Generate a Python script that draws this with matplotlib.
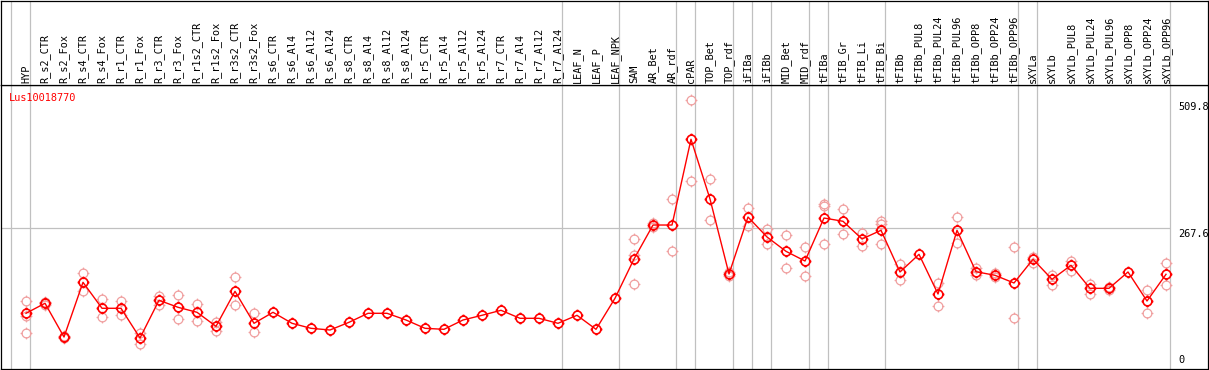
"""Expression profile of Lus10018770 across tissues and treatments."""

import matplotlib

matplotlib.use("Agg")
import matplotlib.pyplot as plt
import numpy as np
from matplotlib.path import Path

GENE = "Lus10018770"

SAMPLES = [
    "HYP", "R_s2_CTR", "R_s2_Fox", "R_s4_CTR", "R_s4_Fox", "R_r1_CTR",
    "R_r1_Fox", "R_r3_CTR", "R_r3_Fox", "R_r1s2_CTR", "R_r1s2_Fox",
    "R_r3s2_CTR", "R_r3s2_Fox", "R_s6_CTR", "R_s6_Al4", "R_s6_Al12",
    "R_s6_Al24", "R_s8_CTR", "R_s8_Al4", "R_s8_Al12", "R_s8_Al24",
    "R_r5_CTR", "R_r5_Al4", "R_r5_Al12", "R_r5_Al24", "R_r7_CTR",
    "R_r7_Al4", "R_r7_Al12", "R_r7_Al24", "LEAF_N", "LEAF_P", "LEAF_NPK",
    "SAM", "AR_Bet", "AR_rdf", "cPAR", "TOP_Bet", "TOP_rdf", "iFIBa",
    "iFIBb", "MID_Bet", "MID_rdf", "tFIBa", "tFIB_Gr", "tFIB_Li", "tFIB_Bi",
    "tFIBb", "tFIBb_PUL8", "tFIBb_PUL24", "tFIBb_PUL96", "tFIBb_OPP8",
    "tFIBb_OPP24", "tFIBb_OPP96", "sXYLa", "sXYLb", "sXYLb_PUL8",
    "sXYLb_PUL24", "sXYLb_PUL96", "sXYLb_OPP8", "sXYLb_OPP24", "sXYLb_OPP96",
]

MEANS = [
    105.7, 124.7, 60.7, 164.5, 115.2, 115.2, 58.8, 130.4, 117.1, 107.6,
    81.0, 147.4, 86.7, 107.6, 86.7, 77.2, 74.0, 88.6, 105.7, 105.7,
    93.0, 77.2, 75.3, 93.0, 101.9, 111.4, 96.2, 96.2, 86.7, 101.9,
    75.3, 134.2, 208.7, 273.2, 273.2, 435.9, 322.6, 180.3, 288.4, 250.5,
    223.3, 204.9, 286.5, 280.3, 246.7, 263.2, 184.1, 217.6, 142.3, 263.2,
    184.6, 177.8, 163.2, 208.2, 170.2, 196.8, 153.1, 153.1, 184.1, 129.0,
    179.7,
]

REPLICATES = [
    [129.0, 100.6, 68.3], [122.0, 127.0], [58.0, 63.0], [181.6, 148.6],
    [132.3, 98.1], [129.0, 101.9], [68.9, 47.4], [139.1, 122.0],
    [140.4, 94.3], [123.3, 90.5], [88.6, 72.7], [174.0, 120.9],
    [105.7, 69.6], [], [], [], [], [], [], [], [], [], [], [], [], [], [],
    [], [], [], [], [],
    [246.7, 216.3, 160.7], [277.6, 269.0], [322.0, 223.3], [509.8, 356.7],
    [360.5, 282.7], [183.5, 176.5], [305.5, 271.9], [265.1, 236.6],
    [254.3, 191.1], [230.9, 175.9], [313.1, 309.3, 237.2], [303.0, 255.6],
    [257.5, 232.8], [280.8, 275.1, 236.6], [199.2, 168.3], [],
    [162.6, 119.0], [288.4, 238.5], [191.1, 178.9], [181.6, 175.1],
    [230.9, 96.2], [213.1, 201.7], [178.4, 160.0], [204.9, 186.0],
    [161.3, 142.9], [156.2, 149.9], [], [149.3, 105.7], [200.6, 158.8],
]

# index of the last sample in each group (separator drawn just after it)
GROUP_ENDS = [-1, 0, 28, 31, 34, 35, 37, 38, 39, 41, 42, 45, 52, 53, 60]

Y_MAX_LABEL = 509.8
Y_MID_LABEL = 267.6

MAIN_RED = "#ff0000"
REP_RED = "#f0a0a0"
GRID_GREY = "#c0c0c0"
FONT = "DejaVu Sans Mono"


def tick_circle():
    # open circle with four short ticks, like the original marker glyph
    t = np.linspace(0, 2 * np.pi, 33)
    verts = [(np.cos(a), np.sin(a)) for a in t]
    codes = [Path.MOVETO] + [Path.LINETO] * (len(t) - 1)
    for dx, dy in [(0, 1), (0, -1), (1, 0), (-1, 0)]:
        verts += [(dx * 1.0, dy * 1.0), (dx * 1.35, dy * 1.35)]
        codes += [Path.MOVETO, Path.LINETO]
    return Path(verts, codes)


def main():
    W, H = 1209, 370
    fig = plt.figure(figsize=(W / 100, H / 100), dpi=100)

    left_px, right_px = 1, 1208
    header_px, bottom_px = 85, 369
    x0 = left_px / W
    width = (right_px - left_px) / W

    ax = fig.add_axes([x0, (H - bottom_px) / H, width, (bottom_px - header_px) / H])
    hdr = fig.add_axes([x0, (H - header_px) / H, width, (header_px - 0.5) / H], sharex=ax)

    step = 19.0
    first_px = 26
    xlim = ((left_px - first_px) / step, (right_px - first_px) / step)
    ax.set_xlim(*xlim)
    ax.set_ylim(0, (bottom_px - header_px) / 0.527)
    hdr.set_ylim(0, 1)

    for a in (ax, hdr):
        a.set_xticks([])
        a.set_yticks([])
        for s in a.spines.values():
            s.set_linewidth(0.9)
            s.set_color("black")
        for g in GROUP_ENDS:
            a.axvline(g + 4 / step, color=GRID_GREY, lw=0.9, zorder=0)

    ax.hlines(Y_MID_LABEL, xlim[0], GROUP_ENDS[-1] + 4 / step, color=GRID_GREY, lw=0.9, zorder=0)

    x = np.arange(len(SAMPLES))
    marker = tick_circle()

    rep_x = [i for i, reps in enumerate(REPLICATES) for _ in reps]
    rep_y = [v for reps in REPLICATES for v in reps]
    ax.plot(rep_x, rep_y, linestyle="none", marker=marker, markersize=8.5,
            markerfacecolor="none", markeredgecolor=REP_RED, markeredgewidth=0.9,
            clip_on=False, zorder=2)

    ax.plot(x, MEANS, color=MAIN_RED, lw=1.0, marker=marker, markersize=8.5,
            markerfacecolor="none", markeredgecolor=MAIN_RED, markeredgewidth=1.2,
            zorder=3)

    ax.text((9 - first_px) / step, 1 - 13 / 284, GENE, color=MAIN_RED,
            family=FONT, fontsize=7.4, va="center", ha="left",
            transform=ax.get_xaxis_transform())

    label_x = (1178 - first_px) / step
    ax.annotate(f"{Y_MAX_LABEL:.1f}", (label_x, Y_MAX_LABEL), xytext=(0, -2),
                textcoords="offset pixels", family=FONT, fontsize=7.4,
                va="top", ha="left")
    ax.annotate(f"{Y_MID_LABEL:.1f}", (label_x, Y_MID_LABEL), xytext=(0, -1),
                textcoords="offset pixels", family=FONT, fontsize=7.4,
                va="top", ha="left")
    ax.annotate("0", (label_x, 0), xytext=(0, 4), textcoords="offset pixels",
                family=FONT, fontsize=7.4, va="bottom", ha="left")

    for i, name in enumerate(SAMPLES):
        hdr.text(i, 2 / 85, name, rotation=90, ha="center", va="bottom",
                 family=FONT, fontsize=7.4)

    fig.savefig("out.png", dpi=100)
    plt.close(fig)


if __name__ == "__main__":
    main()
